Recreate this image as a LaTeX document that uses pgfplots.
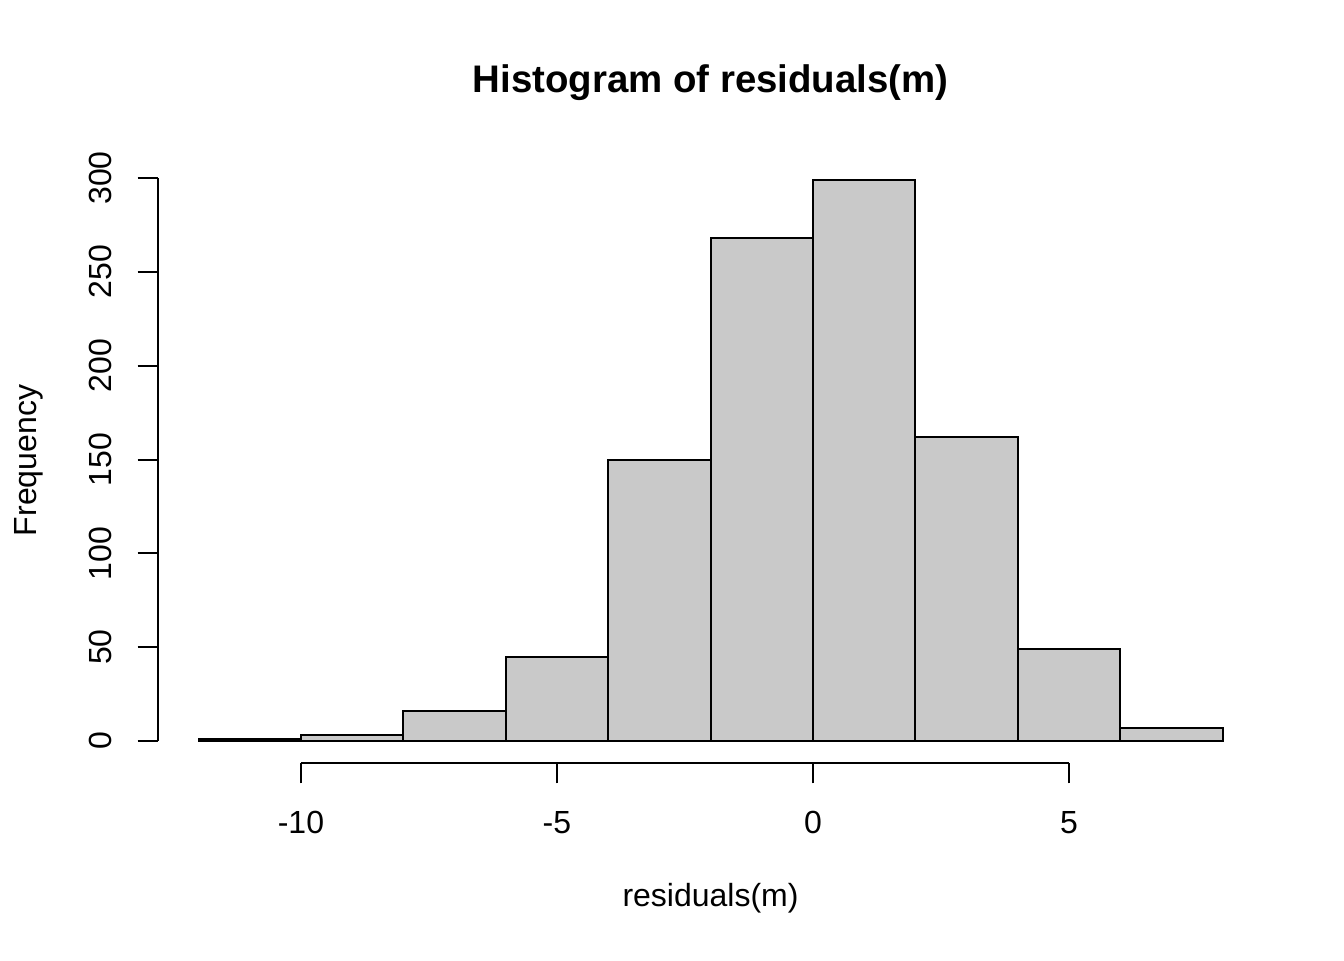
\documentclass[12pt,border=0pt]{standalone}
\usepackage{fontspec}
\setmainfont{Liberation Sans}
\usepackage{pgfplots}
\pgfplotsset{compat=1.18}
\definecolor{barfill}{RGB}{201,201,201}
\begin{document}
\begin{tikzpicture}
\path[use as bounding box] (0,0) rectangle (504pt,360pt);
\begin{axis}[
  name=ax,
  at={(59.1pt,73.7pt)}, anchor=south west,
  scale only axis,
  width=414.7pt, height=227.25pt,
  xmin=-12.8, xmax=8.8,
  ymin=-11.96, ymax=310.96,
  axis line style={draw=none},
  tick pos=left,
  tick align=outside,
  major tick length=7.5pt,
  tick style={black, line width=0.75pt},
  xtick={-10,-5,0,5},
  ytick={0,50,100,150,200,250,300},
  /pgf/number format/assume math mode=true,
  xticklabel style={anchor=base, inner sep=0pt, yshift=-18.75pt},
  yticklabel style={rotate=90, anchor=base, inner sep=0pt, xshift=0pt, yshift=9.7pt},
  clip=false,
]
\addplot[ybar interval, fill=barfill, draw=black, line width=0.75pt]
  coordinates {(-12,1) (-10,3) (-8,16) (-6,45) (-4,150) (-2,268) (0,299) (2,162) (4,49) (6,7) (8,7)};
\draw[line width=0.75pt] (axis cs:-10,-11.96) -- (axis cs:5,-11.96);
\draw[line width=0.75pt] (axis cs:-12.8,0) -- (axis cs:-12.8,300);
\end{axis}
\node[anchor=base, font=\bfseries\fontsize{14.4}{17}\selectfont] at ([yshift=24.2pt]ax.north) {Histogram of residuals(m)};
\node[anchor=base] at ([yshift=-53.7pt]ax.south) {residuals(m)};
\node[anchor=base, rotate=90] at ([xshift=-45.6pt]ax.west) {Frequency};
\end{tikzpicture}
\end{document}
